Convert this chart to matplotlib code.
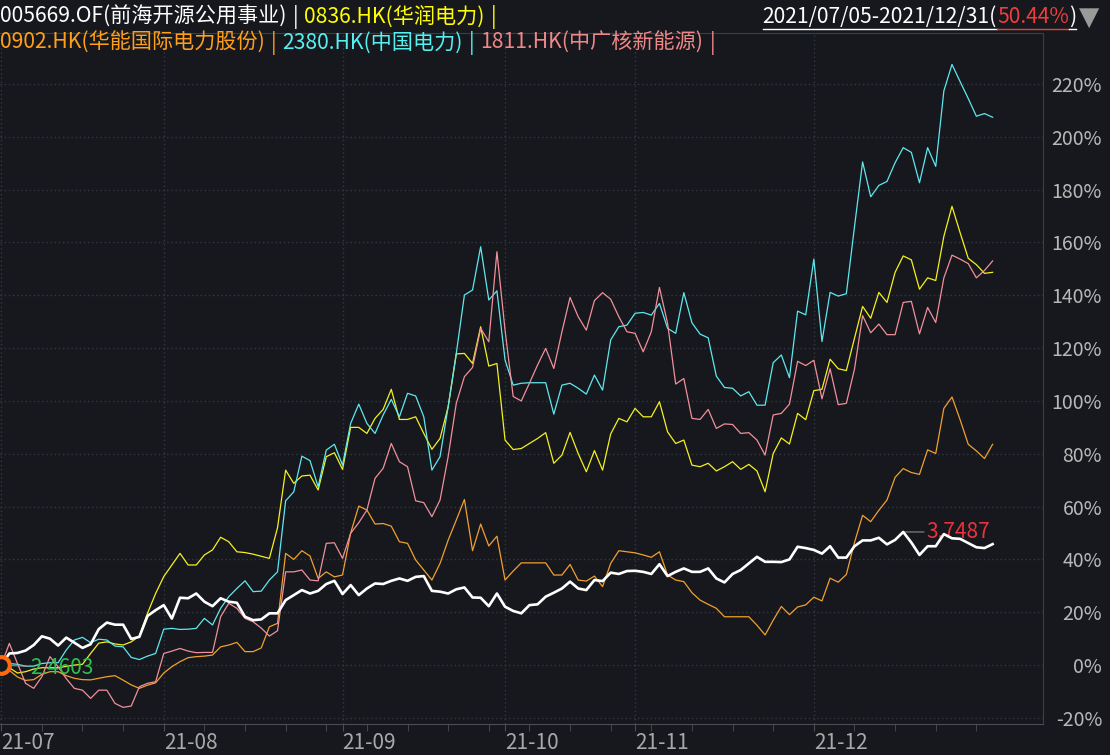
import numpy as np
import matplotlib
matplotlib.use("Agg")
import matplotlib.pyplot as plt
from matplotlib.lines import Line2D

plt.rcParams['font.family'] = ['Noto Sans CJK SC', 'DejaVu Sans']

# cumulative return (%) per trading day, 2021/07/05 - 2021/12/31
fund = [0, 4.4, 4.6, 5.5, 7.6, 10.9, 10.0, 7.4, 10.4, 8.5, 6.5, 7.9, 13.6, 16.1, 15.3, 15.3, 9.9, 10.7, 18.6, 20.8,
        22.7, 17.6, 25.5, 25.3, 27.1, 24.0, 22.3, 25.3, 24.0, 23.6, 18.3, 17.0, 17.3, 19.6, 19.6, 24.6, 26.5, 28.4, 27.1, 28.1,
        30.7, 31.9, 26.9, 30.3, 26.5, 29.0, 30.9, 30.7, 31.9, 32.8, 31.9, 33.4, 33.7, 28.1, 27.8, 27.1, 28.7, 29.4, 25.6, 25.5,
        22.3, 27.1, 22.1, 20.5, 19.6, 22.7, 23.0, 25.9, 27.4, 29.0, 31.6, 29.0, 28.4, 32.2, 31.8, 35.0, 34.5, 35.6, 35.7, 35.3,
        34.5, 38.2, 33.7, 35.3, 36.6, 35.3, 35.3, 36.6, 32.8, 31.3, 34.5, 36.0, 38.5, 41.0, 39.1, 39.1, 39.0, 40.0, 44.8, 44.3,
        43.6, 42.2, 45.0, 40.7, 40.7, 45.0, 47.2, 47.2, 48.2, 45.7, 47.4, 50.4, 46.4, 41.7, 45.0, 45.0, 49.6, 48.0, 47.8, 46.2,
        44.6, 44.3, 45.8]
cr_power = [0, -1.0, -3.0, -2.5, -1.5, -1.0, -1.0, -1.0, -0.5, 0, 0.3, 4.4, 8.3, 8.8, 8.0, 7.6, 8.8, 11.0, 19.6, 27.1,
            33.5, 37.9, 42.3, 37.9, 37.9, 41.7, 43.6, 48.4, 46.7, 42.9, 42.6, 42.0, 41.2, 40.4, 52.0, 73.8, 68.8, 71.6, 71.9, 66.3,
            78.9, 80.4, 74.1, 90.0, 90.0, 87.7, 93.4, 96.8, 104.4, 93.0, 93.0, 94.0, 87.7, 81.7, 85.8, 97.8, 117.8, 118.0, 114.2, 128.1,
            113.2, 114.2, 85.2, 81.6, 82.0, 83.9, 85.8, 88.0, 76.4, 79.5, 88.1, 80.1, 73.2, 81.2, 73.8, 87.5, 93.4, 92.1, 97.2, 94.0,
            94.0, 99.7, 88.3, 83.9, 85.2, 75.7, 75.1, 76.4, 73.5, 75.1, 77.0, 74.1, 76.0, 73.5, 65.6, 80.1, 86.0, 83.7, 95.3, 92.9,
            103.9, 104.4, 115.8, 112.2, 111.5, 123.7, 135.8, 131.3, 141.1, 137.3, 148.7, 154.9, 153.4, 142.3, 146.6, 145.6, 162.3, 173.7, 163.7, 154.0,
            151.6, 148.3, 148.7]
huaneng = [0, -2.0, -4.5, -5.8, -5.5, -3.5, -2.5, -2.5, -4.0, -5.0, -5.5, -5.6, -5.0, -4.4, -4.0, -5.7, -7.5, -8.8, -7.6, -6.7,
           -3.0, -0.6, 1.3, 2.8, 3.2, 3.4, 3.8, 6.9, 7.6, 8.6, 5.1, 5.1, 6.5, 14.5, 15.8, 42.3, 40.0, 43.3, 41.3, 32.8,
           35.3, 33.4, 34.1, 50.0, 60.2, 58.7, 53.4, 53.6, 52.6, 46.7, 46.1, 39.8, 36.0, 32.2, 38.5, 47.3, 54.9, 62.7, 43.3, 53.4,
           45.1, 48.8, 32.2, 35.6, 38.7, 38.7, 38.7, 38.7, 34.1, 34.1, 38.1, 32.2, 31.8, 33.7, 29.7, 38.5, 43.3, 42.9, 42.5, 41.7,
           40.8, 42.9, 34.1, 32.2, 31.6, 27.4, 24.6, 23.0, 21.5, 18.3, 18.3, 18.3, 18.3, 15.1, 11.4, 17.0, 22.2, 19.1, 22.0, 22.8,
           25.7, 24.3, 32.9, 31.4, 34.3, 46.4, 56.7, 54.3, 58.6, 62.5, 71.1, 74.4, 72.9, 72.2, 81.5, 80.1, 97.2, 101.5, 92.9, 83.6,
           81.1, 78.2, 83.6]
china_power = [0, 0.6, 0.3, -0.4, -0.4, 0.6, 0.9, 0.9, 5.7, 9.5, 10.5, 8.5, 9.8, 9.5, 7.2, 6.9, 2.9, 2.1, 3.4, 4.4,
               13.6, 13.9, 13.5, 13.6, 13.9, 17.7, 15.2, 21.5, 25.9, 29.0, 31.9, 27.8, 28.0, 32.2, 35.3, 62.2, 65.6, 79.1, 77.4, 67.5,
               81.4, 83.6, 75.7, 91.5, 98.8, 91.5, 87.7, 94.7, 100.6, 94.0, 102.9, 101.9, 94.0, 73.8, 78.9, 97.8, 118.0, 140.1, 142.0, 158.4,
               138.2, 141.7, 115.5, 106.0, 106.7, 106.9, 106.9, 106.9, 95.0, 106.0, 106.7, 104.8, 102.6, 109.8, 104.1, 123.1, 128.1, 128.7, 133.2, 133.5,
               132.5, 136.9, 127.5, 125.6, 141.0, 129.6, 125.3, 123.9, 109.4, 105.1, 104.8, 101.9, 103.5, 98.4, 98.4, 114.5, 117.4, 108.8, 134.0, 132.6,
               153.7, 122.5, 141.1, 139.7, 140.6, 165.9, 190.5, 177.3, 181.6, 183.1, 190.2, 195.9, 194.1, 182.6, 195.9, 188.8, 217.4, 227.4, 220.9, 214.5,
               207.8, 208.8, 207.4]
cgn_new = [0, 8.2, 0.6, -6.9, -8.8, -4.4, 3.2, -0.6, -5.1, -8.8, -9.5, -12.6, -9.5, -9.5, -14.5, -16.0, -15.5, -8.2, -6.9, -6.3,
           4.4, 5.3, 6.3, 5.3, 4.7, 4.8, 4.8, 18.3, 23.4, 21.5, 17.7, 16.4, 14.0, 11.0, 13.0, 35.3, 35.3, 36.0, 32.2, 31.9,
           46.1, 46.3, 40.4, 49.9, 53.9, 58.7, 70.7, 74.5, 83.9, 77.0, 75.1, 62.2, 61.5, 56.2, 62.5, 78.9, 99.1, 109.2, 112.7, 127.5,
           122.4, 156.5, 126.8, 101.7, 100.0, 106.7, 113.6, 119.9, 112.3, 126.2, 139.2, 131.9, 126.8, 138.0, 141.0, 138.5, 131.9, 126.2, 125.6, 118.6,
           126.2, 143.0, 129.4, 106.4, 108.5, 93.4, 93.0, 96.8, 89.6, 91.3, 91.1, 87.7, 88.0, 85.2, 79.5, 94.7, 95.3, 98.8, 115.0, 113.4,
           115.4, 100.8, 112.2, 98.6, 99.1, 112.0, 132.3, 125.8, 129.1, 125.1, 125.1, 137.3, 137.7, 125.4, 135.4, 129.7, 146.6, 155.2, 153.7, 152.0,
           146.6, 149.4, 153.0]

month_idx = [0, 20, 42, 62, 78, 100]
month_labels = ['21-07', '21-08', '21-09', '21-10', '21-11', '21-12']
y_ticks = list(range(-20, 221, 20))
fund_min_label = '2.4603'
fund_max_label = '3.7487'

BG = '#16181d'
C_WHITE = '#ffffff'
C_YELLOW = '#f4f020'
C_ORANGE = '#f0a030'
C_CYAN = '#5ee8ee'
C_PINK = '#f0909a'

fig = plt.figure(figsize=(11.1, 7.55), dpi=100, facecolor=BG)
W, H = 1110, 755
ax = fig.add_axes([0, 31 / H, 1043 / W, 691 / H])
ax.set_facecolor(BG)

x = np.arange(len(fund))
ax.plot(x, cr_power, color=C_YELLOW, lw=0.9)
ax.plot(x, huaneng, color=C_ORANGE, lw=0.9)
ax.plot(x, china_power, color=C_CYAN, lw=0.9)
ax.plot(x, cgn_new, color=C_PINK, lw=0.9)
ax.plot(x, fund, color=C_WHITE, lw=1.9, zorder=5)

# start marker
ax.plot([x[0]], [fund[0]], 'o', ms=12, mfc=BG, mec='#ff6a10', mew=3, zorder=6)

ax.set_xlim(-0.15, 128.2)
ax.set_ylim(-22.3, 239.3)

ax.spines['left'].set_visible(False)
ax.spines['top'].set_color('#3a3d44')
ax.spines['right'].set_color('#3a3d44')
ax.spines['bottom'].set_color('#4a4d55')

ax.set_xticks(month_idx)
ax.set_xticklabels(month_labels, ha='left', fontsize=15, color='#a8a8a8')
ax.set_xticks(range(0, len(fund), 5), minor=True)
ax.tick_params(axis='x', which='both', length=5, color='#4a4d55', direction='out', pad=1)

ax.yaxis.tick_right()
ax.set_yticks(y_ticks)
ax.set_yticklabels([f'{v}%' for v in y_ticks], fontsize=14, color='#b8b8b8')
for lab in ax.get_yticklabels():
    lab.set_ha('right')
ax.tick_params(axis='y', length=0, pad=42.5)

ax.grid(True, which='major', color='#343842', linestyle=(0, (1, 2)), linewidth=1)
ax.set_axisbelow(True)

# min / max annotations
ax.annotate(fund_min_label, xy=(x[0], fund[0]), xytext=(21, -2), textcoords='offset points',
            color='#2fbf4f', fontsize=15, va='center', ha='left',
            arrowprops=dict(arrowstyle='-', color='#9a9a9a', lw=0.7, shrinkA=0, shrinkB=0))
imax = int(np.argmax(fund))
ax.annotate(fund_max_label, xy=(x[imax], fund[imax]), xytext=(17, 0), textcoords='offset points',
            color='#e8333c', fontsize=15, va='center', ha='left',
            arrowprops=dict(arrowstyle='-', color='#9a9a9a', lw=0.7, shrinkA=0, shrinkB=0))

# header
fig.canvas.draw()
r = fig.canvas.get_renderer()


def put(px, py, s, color, size=15.2, **kw):
    t = fig.text(px / W, 1 - py / H, s, color=color, fontsize=size, va='center', ha='left', **kw)
    bb = t.get_window_extent(renderer=r)
    return t, bb


row1 = [('005669.OF(前海开源公用事业)', C_WHITE), ('0836.HK(华润电力)', '#ffff00')]
row2 = [('0902.HK(华能国际电力股份)', '#ff9f1a'), ('2380.HK(中国电力)', '#55f0f0'), ('1811.HK(中广核新能源)', '#f08888')]
for row, py in [(row1, 17), (row2, 43)]:
    px = 0
    for s, c in row:
        _, bb = put(px, py, s, c)
        _, bb2 = put(bb.x1 + 6, py, '|', c)
        px = bb2.x1 + 6

pieces = [('2021/07/05-2021/12/31(', '#ffffff'), ('50.44%', '#f03c3c'), (')', '#ffffff')]
widths = []
for s, c in pieces:
    t, bb = put(0, 17, s, c)
    widths.append(bb.width)
    t.remove()
px = 1076 - sum(widths)
for (s, c), w in zip(pieces, widths):
    put(px, 17, s, c)
    fig.add_artist(Line2D([px / W, (px + w) / W], [1 - 29 / H, 1 - 29 / H], color=c, lw=1,
                          transform=fig.transFigure))
    px += w
fig.text(1089 / W, 1 - 18 / H, '▼', color='#9a9a9a', fontsize=19, ha='center', va='center',
         family=['DejaVu Sans'])

fig.savefig('out.png', dpi=100, facecolor=BG)
